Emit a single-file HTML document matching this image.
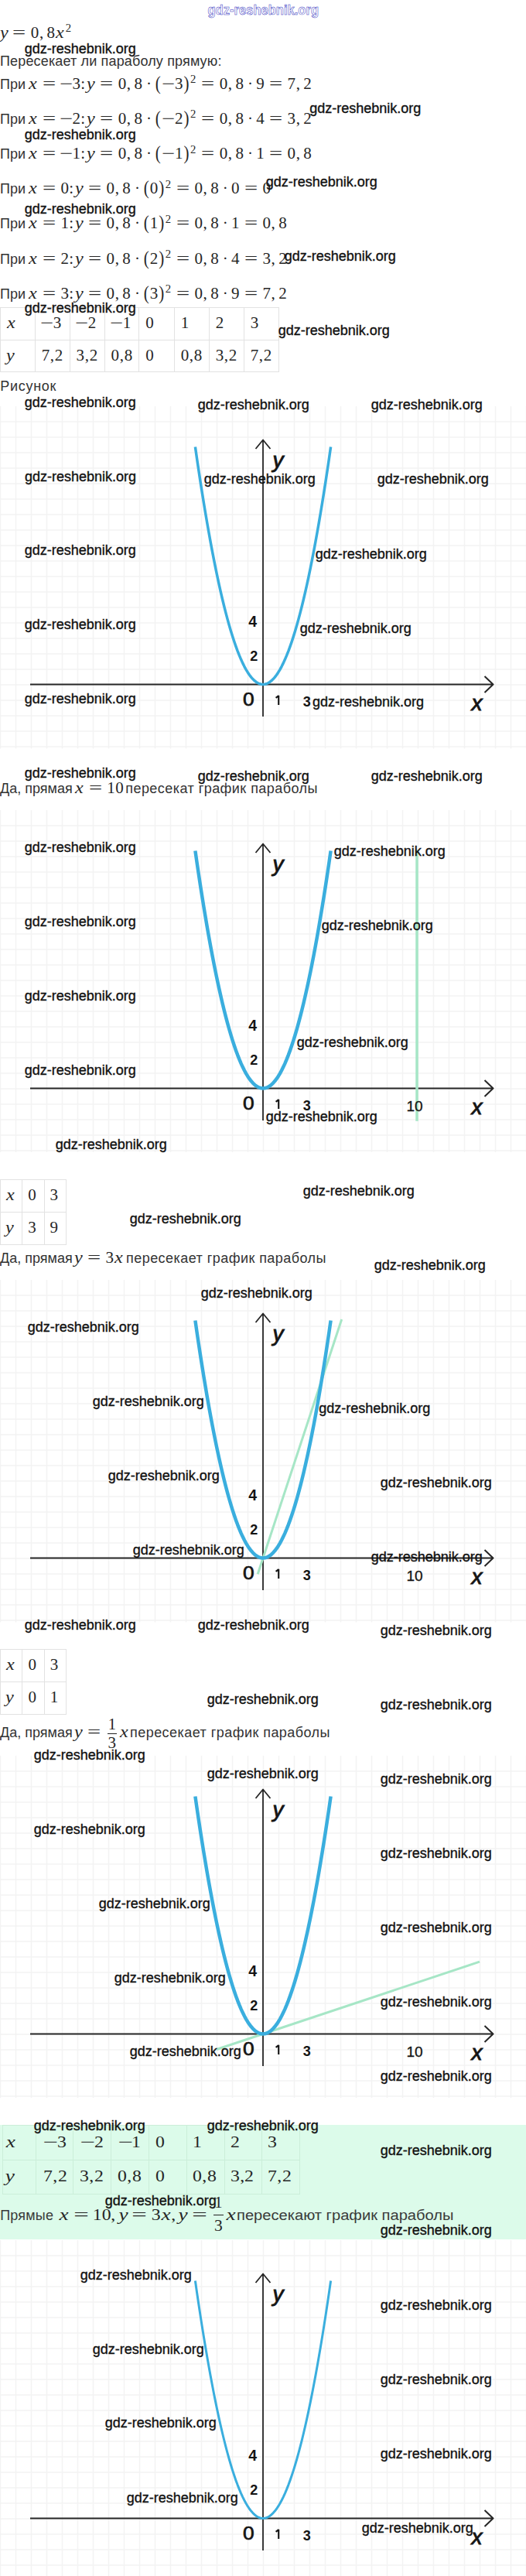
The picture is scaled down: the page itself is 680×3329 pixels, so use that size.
<!DOCTYPE html><html><head><meta charset="utf-8"><style>
*{margin:0;padding:0;box-sizing:border-box}
html,body{width:680px;height:3329px;overflow:hidden;background:#fff}
body{position:relative;font-family:"Liberation Sans",sans-serif;font-size:18px;color:#333}
.ln{position:absolute;left:0;white-space:nowrap;line-height:26px;height:26px;letter-spacing:0}
.t4{letter-spacing:0.45px}
.ln span,.ln i{line-height:0}
.m{font-family:"Liberation Serif",serif;color:#262626;letter-spacing:0}
.g{display:inline-block;text-align:center}
.it{font-style:italic;transform:scaleX(1.15)}
.op{transform:scaleX(1.45)}
.pr{transform:scaleY(1.15)}
.la{text-align:left}
.gb .g{transform:scaleX(1.13)}
.gb .op{transform:scaleX(1.65)}
.gb .it{transform:scaleX(1.3)}
.s{display:inline-block}
.sup{display:inline-block;text-align:center}
.frac{display:inline-block;position:relative;height:0}
.fx{position:absolute;display:block;text-align:center;line-height:20px!important;height:20px}
.fbar{position:absolute;display:block;height:1.2px;background:#222}
.wm{position:absolute;font-family:"Liberation Sans",sans-serif;font-size:18px;color:#111;white-space:nowrap;line-height:20px;-webkit-text-stroke:0.35px #111;letter-spacing:0}
.hl{position:absolute;height:1px;background:#e2e2e2}
.vl{position:absolute;width:1px;background:#e2e2e2}
svg{position:absolute;left:0}
.gl{font-family:"Liberation Sans",sans-serif;fill:#141414}
</style></head><body><div class="ln" style="top:29.56px;left:-0.50px;font-size:18px;"><span class="m" style="margin-left:0px;margin-right:0px;font-size:21.0px"><span class="g it" style="width:10.78px">y</span><i class="s" style="width:6.11px"></i><span class="g op" style="width:17.12px">=</span><i class="s" style="width:6.11px"></i><span class="g" style="width:11.00px">0</span><span class="g" style="width:6.12px">,</span><i class="s" style="width:3.67px"></i><span class="g" style="width:11.00px">8</span><span class="g it" style="width:12.58px">x</span><span class="sup" style="width:8.80px;font-size:14.7px;vertical-align:7.9px">2</span></span></div><div class="ln" style="top:65.56px;left:0.00px;font-size:18px;"><span class="t4" style="letter-spacing:0.15px">Пересекает ли параболу прямую:</span></div><div class="ln" style="top:96.36px;left:0.00px;font-size:18px;">При <span class="m" style="margin-left:-1.8px;margin-right:0px;font-size:21.0px"><span class="g it" style="width:12.58px">x</span><i class="s" style="width:6.11px"></i><span class="g op" style="width:17.12px">=</span><i class="s" style="width:6.11px"></i><span class="g op" style="width:15.12px">−</span><span class="g" style="width:11.00px">3</span><span class="g la" style="width:8.12px">:</span><span class="g it" style="width:10.78px">y</span><i class="s" style="width:6.11px"></i><span class="g op" style="width:17.12px">=</span><i class="s" style="width:6.11px"></i><span class="g" style="width:11.00px">0</span><span class="g" style="width:6.12px">,</span><i class="s" style="width:3.67px"></i><span class="g" style="width:11.00px">8</span><i class="s" style="width:4.89px"></i><span class="g" style="width:6.12px">·</span><i class="s" style="width:4.89px"></i><span class="g pr" style="width:8.56px">(</span><span class="g op" style="width:17.12px">−</span><span class="g" style="width:11.00px">3</span><span class="g pr" style="width:8.56px">)</span><span class="sup" style="width:8.80px;font-size:14.7px;vertical-align:7.9px">2</span><i class="s" style="width:6.11px"></i><span class="g op" style="width:17.12px">=</span><i class="s" style="width:6.11px"></i><span class="g" style="width:11.00px">0</span><span class="g" style="width:6.12px">,</span><i class="s" style="width:3.67px"></i><span class="g" style="width:11.00px">8</span><i class="s" style="width:4.89px"></i><span class="g" style="width:6.12px">·</span><i class="s" style="width:4.89px"></i><span class="g" style="width:11.00px">9</span><i class="s" style="width:6.11px"></i><span class="g op" style="width:17.12px">=</span><i class="s" style="width:6.11px"></i><span class="g" style="width:11.00px">7</span><span class="g" style="width:6.12px">,</span><i class="s" style="width:3.67px"></i><span class="g" style="width:11.00px">2</span></span></div><div class="ln" style="top:141.39px;left:0.00px;font-size:18px;">При <span class="m" style="margin-left:-1.8px;margin-right:0px;font-size:21.0px"><span class="g it" style="width:12.58px">x</span><i class="s" style="width:6.11px"></i><span class="g op" style="width:17.12px">=</span><i class="s" style="width:6.11px"></i><span class="g op" style="width:15.12px">−</span><span class="g" style="width:11.00px">2</span><span class="g la" style="width:8.12px">:</span><span class="g it" style="width:10.78px">y</span><i class="s" style="width:6.11px"></i><span class="g op" style="width:17.12px">=</span><i class="s" style="width:6.11px"></i><span class="g" style="width:11.00px">0</span><span class="g" style="width:6.12px">,</span><i class="s" style="width:3.67px"></i><span class="g" style="width:11.00px">8</span><i class="s" style="width:4.89px"></i><span class="g" style="width:6.12px">·</span><i class="s" style="width:4.89px"></i><span class="g pr" style="width:8.56px">(</span><span class="g op" style="width:17.12px">−</span><span class="g" style="width:11.00px">2</span><span class="g pr" style="width:8.56px">)</span><span class="sup" style="width:8.80px;font-size:14.7px;vertical-align:7.9px">2</span><i class="s" style="width:6.11px"></i><span class="g op" style="width:17.12px">=</span><i class="s" style="width:6.11px"></i><span class="g" style="width:11.00px">0</span><span class="g" style="width:6.12px">,</span><i class="s" style="width:3.67px"></i><span class="g" style="width:11.00px">8</span><i class="s" style="width:4.89px"></i><span class="g" style="width:6.12px">·</span><i class="s" style="width:4.89px"></i><span class="g" style="width:11.00px">4</span><i class="s" style="width:6.11px"></i><span class="g op" style="width:17.12px">=</span><i class="s" style="width:6.11px"></i><span class="g" style="width:11.00px">3</span><span class="g" style="width:6.12px">,</span><i class="s" style="width:3.67px"></i><span class="g" style="width:11.00px">2</span></span></div><div class="ln" style="top:186.42px;left:0.00px;font-size:18px;">При <span class="m" style="margin-left:-1.8px;margin-right:0px;font-size:21.0px"><span class="g it" style="width:12.58px">x</span><i class="s" style="width:6.11px"></i><span class="g op" style="width:17.12px">=</span><i class="s" style="width:6.11px"></i><span class="g op" style="width:15.12px">−</span><span class="g" style="width:11.00px">1</span><span class="g la" style="width:8.12px">:</span><span class="g it" style="width:10.78px">y</span><i class="s" style="width:6.11px"></i><span class="g op" style="width:17.12px">=</span><i class="s" style="width:6.11px"></i><span class="g" style="width:11.00px">0</span><span class="g" style="width:6.12px">,</span><i class="s" style="width:3.67px"></i><span class="g" style="width:11.00px">8</span><i class="s" style="width:4.89px"></i><span class="g" style="width:6.12px">·</span><i class="s" style="width:4.89px"></i><span class="g pr" style="width:8.56px">(</span><span class="g op" style="width:17.12px">−</span><span class="g" style="width:11.00px">1</span><span class="g pr" style="width:8.56px">)</span><span class="sup" style="width:8.80px;font-size:14.7px;vertical-align:7.9px">2</span><i class="s" style="width:6.11px"></i><span class="g op" style="width:17.12px">=</span><i class="s" style="width:6.11px"></i><span class="g" style="width:11.00px">0</span><span class="g" style="width:6.12px">,</span><i class="s" style="width:3.67px"></i><span class="g" style="width:11.00px">8</span><i class="s" style="width:4.89px"></i><span class="g" style="width:6.12px">·</span><i class="s" style="width:4.89px"></i><span class="g" style="width:11.00px">1</span><i class="s" style="width:6.11px"></i><span class="g op" style="width:17.12px">=</span><i class="s" style="width:6.11px"></i><span class="g" style="width:11.00px">0</span><span class="g" style="width:6.12px">,</span><i class="s" style="width:3.67px"></i><span class="g" style="width:11.00px">8</span></span></div><div class="ln" style="top:231.45px;left:0.00px;font-size:18px;">При <span class="m" style="margin-left:-1.8px;margin-right:0px;font-size:21.0px"><span class="g it" style="width:12.58px">x</span><i class="s" style="width:6.11px"></i><span class="g op" style="width:17.12px">=</span><i class="s" style="width:6.11px"></i><span class="g" style="width:11.00px">0</span><span class="g la" style="width:8.12px">:</span><span class="g it" style="width:10.78px">y</span><i class="s" style="width:6.11px"></i><span class="g op" style="width:17.12px">=</span><i class="s" style="width:6.11px"></i><span class="g" style="width:11.00px">0</span><span class="g" style="width:6.12px">,</span><i class="s" style="width:3.67px"></i><span class="g" style="width:11.00px">8</span><i class="s" style="width:4.89px"></i><span class="g" style="width:6.12px">·</span><i class="s" style="width:4.89px"></i><span class="g pr" style="width:8.56px">(</span><span class="g" style="width:11.00px">0</span><span class="g pr" style="width:8.56px">)</span><span class="sup" style="width:8.80px;font-size:14.7px;vertical-align:7.9px">2</span><i class="s" style="width:6.11px"></i><span class="g op" style="width:17.12px">=</span><i class="s" style="width:6.11px"></i><span class="g" style="width:11.00px">0</span><span class="g" style="width:6.12px">,</span><i class="s" style="width:3.67px"></i><span class="g" style="width:11.00px">8</span><i class="s" style="width:4.89px"></i><span class="g" style="width:6.12px">·</span><i class="s" style="width:4.89px"></i><span class="g" style="width:11.00px">0</span><i class="s" style="width:6.11px"></i><span class="g op" style="width:17.12px">=</span><i class="s" style="width:6.11px"></i><span class="g" style="width:11.00px">0</span></span></div><div class="ln" style="top:276.48px;left:0.00px;font-size:18px;">При <span class="m" style="margin-left:-1.8px;margin-right:0px;font-size:21.0px"><span class="g it" style="width:12.58px">x</span><i class="s" style="width:6.11px"></i><span class="g op" style="width:17.12px">=</span><i class="s" style="width:6.11px"></i><span class="g" style="width:11.00px">1</span><span class="g la" style="width:8.12px">:</span><span class="g it" style="width:10.78px">y</span><i class="s" style="width:6.11px"></i><span class="g op" style="width:17.12px">=</span><i class="s" style="width:6.11px"></i><span class="g" style="width:11.00px">0</span><span class="g" style="width:6.12px">,</span><i class="s" style="width:3.67px"></i><span class="g" style="width:11.00px">8</span><i class="s" style="width:4.89px"></i><span class="g" style="width:6.12px">·</span><i class="s" style="width:4.89px"></i><span class="g pr" style="width:8.56px">(</span><span class="g" style="width:11.00px">1</span><span class="g pr" style="width:8.56px">)</span><span class="sup" style="width:8.80px;font-size:14.7px;vertical-align:7.9px">2</span><i class="s" style="width:6.11px"></i><span class="g op" style="width:17.12px">=</span><i class="s" style="width:6.11px"></i><span class="g" style="width:11.00px">0</span><span class="g" style="width:6.12px">,</span><i class="s" style="width:3.67px"></i><span class="g" style="width:11.00px">8</span><i class="s" style="width:4.89px"></i><span class="g" style="width:6.12px">·</span><i class="s" style="width:4.89px"></i><span class="g" style="width:11.00px">1</span><i class="s" style="width:6.11px"></i><span class="g op" style="width:17.12px">=</span><i class="s" style="width:6.11px"></i><span class="g" style="width:11.00px">0</span><span class="g" style="width:6.12px">,</span><i class="s" style="width:3.67px"></i><span class="g" style="width:11.00px">8</span></span></div><div class="ln" style="top:321.51px;left:0.00px;font-size:18px;">При <span class="m" style="margin-left:-1.8px;margin-right:0px;font-size:21.0px"><span class="g it" style="width:12.58px">x</span><i class="s" style="width:6.11px"></i><span class="g op" style="width:17.12px">=</span><i class="s" style="width:6.11px"></i><span class="g" style="width:11.00px">2</span><span class="g la" style="width:8.12px">:</span><span class="g it" style="width:10.78px">y</span><i class="s" style="width:6.11px"></i><span class="g op" style="width:17.12px">=</span><i class="s" style="width:6.11px"></i><span class="g" style="width:11.00px">0</span><span class="g" style="width:6.12px">,</span><i class="s" style="width:3.67px"></i><span class="g" style="width:11.00px">8</span><i class="s" style="width:4.89px"></i><span class="g" style="width:6.12px">·</span><i class="s" style="width:4.89px"></i><span class="g pr" style="width:8.56px">(</span><span class="g" style="width:11.00px">2</span><span class="g pr" style="width:8.56px">)</span><span class="sup" style="width:8.80px;font-size:14.7px;vertical-align:7.9px">2</span><i class="s" style="width:6.11px"></i><span class="g op" style="width:17.12px">=</span><i class="s" style="width:6.11px"></i><span class="g" style="width:11.00px">0</span><span class="g" style="width:6.12px">,</span><i class="s" style="width:3.67px"></i><span class="g" style="width:11.00px">8</span><i class="s" style="width:4.89px"></i><span class="g" style="width:6.12px">·</span><i class="s" style="width:4.89px"></i><span class="g" style="width:11.00px">4</span><i class="s" style="width:6.11px"></i><span class="g op" style="width:17.12px">=</span><i class="s" style="width:6.11px"></i><span class="g" style="width:11.00px">3</span><span class="g" style="width:6.12px">,</span><i class="s" style="width:3.67px"></i><span class="g" style="width:11.00px">2</span></span></div><div class="ln" style="top:366.54px;left:0.00px;font-size:18px;">При <span class="m" style="margin-left:-1.8px;margin-right:0px;font-size:21.0px"><span class="g it" style="width:12.58px">x</span><i class="s" style="width:6.11px"></i><span class="g op" style="width:17.12px">=</span><i class="s" style="width:6.11px"></i><span class="g" style="width:11.00px">3</span><span class="g la" style="width:8.12px">:</span><span class="g it" style="width:10.78px">y</span><i class="s" style="width:6.11px"></i><span class="g op" style="width:17.12px">=</span><i class="s" style="width:6.11px"></i><span class="g" style="width:11.00px">0</span><span class="g" style="width:6.12px">,</span><i class="s" style="width:3.67px"></i><span class="g" style="width:11.00px">8</span><i class="s" style="width:4.89px"></i><span class="g" style="width:6.12px">·</span><i class="s" style="width:4.89px"></i><span class="g pr" style="width:8.56px">(</span><span class="g" style="width:11.00px">3</span><span class="g pr" style="width:8.56px">)</span><span class="sup" style="width:8.80px;font-size:14.7px;vertical-align:7.9px">2</span><i class="s" style="width:6.11px"></i><span class="g op" style="width:17.12px">=</span><i class="s" style="width:6.11px"></i><span class="g" style="width:11.00px">0</span><span class="g" style="width:6.12px">,</span><i class="s" style="width:3.67px"></i><span class="g" style="width:11.00px">8</span><i class="s" style="width:4.89px"></i><span class="g" style="width:6.12px">·</span><i class="s" style="width:4.89px"></i><span class="g" style="width:11.00px">9</span><i class="s" style="width:6.11px"></i><span class="g op" style="width:17.12px">=</span><i class="s" style="width:6.11px"></i><span class="g" style="width:11.00px">7</span><span class="g" style="width:6.12px">,</span><i class="s" style="width:3.67px"></i><span class="g" style="width:11.00px">2</span></span></div><div class="hl" style="left:0.0px;width:360.5px;top:397.0px;background:#e2e2e2"></div><div class="hl" style="left:0.0px;width:360.5px;top:438.9px;background:#e2e2e2"></div><div class="hl" style="left:0.0px;width:360.5px;top:480.3px;background:#e2e2e2"></div><div class="vl" style="left:0.0px;top:397.0px;height:84.3px;background:#e2e2e2"></div><div class="vl" style="left:44.6px;top:397.0px;height:84.3px;background:#e2e2e2"></div><div class="vl" style="left:89.5px;top:397.0px;height:84.3px;background:#e2e2e2"></div><div class="vl" style="left:134.5px;top:397.0px;height:84.3px;background:#e2e2e2"></div><div class="vl" style="left:179.3px;top:397.0px;height:84.3px;background:#e2e2e2"></div><div class="vl" style="left:224.6px;top:397.0px;height:84.3px;background:#e2e2e2"></div><div class="vl" style="left:269.6px;top:397.0px;height:84.3px;background:#e2e2e2"></div><div class="vl" style="left:314.6px;top:397.0px;height:84.3px;background:#e2e2e2"></div><div class="vl" style="left:359.5px;top:397.0px;height:84.3px;background:#e2e2e2"></div><div class="ln" style="top:404.56px;left:9.60px;font-size:18px;"><span class="m" style="margin-left:-1.2px;margin-right:0px;font-size:21.0px"><span class="g it" style="width:12.58px">x</span></span></div><div class="ln" style="top:404.56px;left:54.20px;font-size:18px;"><span class="m" style="margin-left:-0.8px;margin-right:0px;font-size:21.0px"><span class="g op" style="width:15.12px">−</span><span class="g" style="width:11.00px">3</span></span></div><div class="ln" style="top:404.56px;left:99.10px;font-size:18px;"><span class="m" style="margin-left:-0.8px;margin-right:0px;font-size:21.0px"><span class="g op" style="width:15.12px">−</span><span class="g" style="width:11.00px">2</span></span></div><div class="ln" style="top:404.56px;left:144.10px;font-size:18px;"><span class="m" style="margin-left:-0.8px;margin-right:0px;font-size:21.0px"><span class="g op" style="width:15.12px">−</span><span class="g" style="width:11.00px">1</span></span></div><div class="ln" style="top:404.56px;left:188.90px;font-size:18px;"><span class="m" style="margin-left:-0.8px;margin-right:0px;font-size:21.0px"><span class="g" style="width:11.00px">0</span></span></div><div class="ln" style="top:404.56px;left:234.20px;font-size:18px;"><span class="m" style="margin-left:-0.8px;margin-right:0px;font-size:21.0px"><span class="g" style="width:11.00px">1</span></span></div><div class="ln" style="top:404.56px;left:279.20px;font-size:18px;"><span class="m" style="margin-left:-0.8px;margin-right:0px;font-size:21.0px"><span class="g" style="width:11.00px">2</span></span></div><div class="ln" style="top:404.56px;left:324.20px;font-size:18px;"><span class="m" style="margin-left:-0.8px;margin-right:0px;font-size:21.0px"><span class="g" style="width:11.00px">3</span></span></div><div class="ln" style="top:446.76px;left:9.60px;font-size:18px;"><span class="m" style="margin-left:-1.2px;margin-right:0px;font-size:21.0px"><span class="g it" style="width:10.78px">y</span></span></div><div class="ln" style="top:446.76px;left:54.20px;font-size:18px;"><span class="m" style="margin-left:-0.8px;margin-right:0px;font-size:21.0px"><span class="g" style="width:11.00px">7</span><span class="g" style="width:6.12px">,</span><span class="g" style="width:11.00px">2</span></span></div><div class="ln" style="top:446.76px;left:99.10px;font-size:18px;"><span class="m" style="margin-left:-0.8px;margin-right:0px;font-size:21.0px"><span class="g" style="width:11.00px">3</span><span class="g" style="width:6.12px">,</span><span class="g" style="width:11.00px">2</span></span></div><div class="ln" style="top:446.76px;left:144.10px;font-size:18px;"><span class="m" style="margin-left:-0.8px;margin-right:0px;font-size:21.0px"><span class="g" style="width:11.00px">0</span><span class="g" style="width:6.12px">,</span><span class="g" style="width:11.00px">8</span></span></div><div class="ln" style="top:446.76px;left:188.90px;font-size:18px;"><span class="m" style="margin-left:-0.8px;margin-right:0px;font-size:21.0px"><span class="g" style="width:11.00px">0</span></span></div><div class="ln" style="top:446.76px;left:234.20px;font-size:18px;"><span class="m" style="margin-left:-0.8px;margin-right:0px;font-size:21.0px"><span class="g" style="width:11.00px">0</span><span class="g" style="width:6.12px">,</span><span class="g" style="width:11.00px">8</span></span></div><div class="ln" style="top:446.76px;left:279.20px;font-size:18px;"><span class="m" style="margin-left:-0.8px;margin-right:0px;font-size:21.0px"><span class="g" style="width:11.00px">3</span><span class="g" style="width:6.12px">,</span><span class="g" style="width:11.00px">2</span></span></div><div class="ln" style="top:446.76px;left:324.20px;font-size:18px;"><span class="m" style="margin-left:-0.8px;margin-right:0px;font-size:21.0px"><span class="g" style="width:11.00px">7</span><span class="g" style="width:6.12px">,</span><span class="g" style="width:11.00px">2</span></span></div><div class="ln" style="top:485.76px;left:0.30px;font-size:18px;"><span style="letter-spacing:0.7px">Рисунок</span></div><div class="ln" style="top:1006.36px;left:0.00px;font-size:18px;">Да, прямая <span class="m" style="margin-left:-2.5px;margin-right:-3.25px;font-size:21.0px"><span class="g it" style="width:12.58px">x</span><i class="s" style="width:6.11px"></i><span class="g op" style="width:17.12px">=</span><i class="s" style="width:6.11px"></i><span class="g" style="width:11.00px">1</span><span class="g" style="width:11.00px">0</span></span><span class="t4"> пересекат график параболы</span></div><div class="hl" style="left:0.0px;width:85.7px;top:1523.8px;background:#e2e2e2"></div><div class="hl" style="left:0.0px;width:85.7px;top:1565.9px;background:#e2e2e2"></div><div class="hl" style="left:0.0px;width:85.7px;top:1608.1px;background:#e2e2e2"></div><div class="vl" style="left:0.0px;top:1523.8px;height:85.3px;background:#e2e2e2"></div><div class="vl" style="left:28.2px;top:1523.8px;height:85.3px;background:#e2e2e2"></div><div class="vl" style="left:56.5px;top:1523.8px;height:85.3px;background:#e2e2e2"></div><div class="vl" style="left:84.7px;top:1523.8px;height:85.3px;background:#e2e2e2"></div><div class="ln" style="top:1531.76px;left:8.60px;font-size:18px;"><span class="m" style="margin-left:-1.2px;margin-right:0px;font-size:21.0px"><span class="g it" style="width:12.58px">x</span></span></div><div class="ln" style="top:1531.76px;left:36.80px;font-size:18px;"><span class="m" style="margin-left:-0.8px;margin-right:0px;font-size:21.0px"><span class="g" style="width:11.00px">0</span></span></div><div class="ln" style="top:1531.76px;left:65.10px;font-size:18px;"><span class="m" style="margin-left:-0.8px;margin-right:0px;font-size:21.0px"><span class="g" style="width:11.00px">3</span></span></div><div class="ln" style="top:1573.56px;left:8.60px;font-size:18px;"><span class="m" style="margin-left:-1.2px;margin-right:0px;font-size:21.0px"><span class="g it" style="width:10.78px">y</span></span></div><div class="ln" style="top:1573.56px;left:36.80px;font-size:18px;"><span class="m" style="margin-left:-0.8px;margin-right:0px;font-size:21.0px"><span class="g" style="width:11.00px">3</span></span></div><div class="ln" style="top:1573.56px;left:65.10px;font-size:18px;"><span class="m" style="margin-left:-0.8px;margin-right:0px;font-size:21.0px"><span class="g" style="width:11.00px">9</span></span></div><div class="ln" style="top:1613.36px;left:0.00px;font-size:18px;">Да, прямая <span class="m" style="margin-left:-2.5px;margin-right:-2.25px;font-size:21.0px"><span class="g it" style="width:10.78px">y</span><i class="s" style="width:6.11px"></i><span class="g op" style="width:17.12px">=</span><i class="s" style="width:6.11px"></i><span class="g" style="width:11.00px">3</span><span class="g it" style="width:12.58px">x</span></span><span class="t4"> пересекает график параболы</span></div><div class="hl" style="left:0.0px;width:85.9px;top:2131.4px;background:#e2e2e2"></div><div class="hl" style="left:0.0px;width:85.9px;top:2173.2px;background:#e2e2e2"></div><div class="hl" style="left:0.0px;width:85.9px;top:2215.0px;background:#e2e2e2"></div><div class="vl" style="left:0.0px;top:2131.4px;height:84.6px;background:#e2e2e2"></div><div class="vl" style="left:28.4px;top:2131.4px;height:84.6px;background:#e2e2e2"></div><div class="vl" style="left:56.8px;top:2131.4px;height:84.6px;background:#e2e2e2"></div><div class="vl" style="left:84.9px;top:2131.4px;height:84.6px;background:#e2e2e2"></div><div class="ln" style="top:2139.36px;left:8.60px;font-size:18px;"><span class="m" style="margin-left:-1.2px;margin-right:0px;font-size:21.0px"><span class="g it" style="width:12.58px">x</span></span></div><div class="ln" style="top:2139.36px;left:37.00px;font-size:18px;"><span class="m" style="margin-left:-0.8px;margin-right:0px;font-size:21.0px"><span class="g" style="width:11.00px">0</span></span></div><div class="ln" style="top:2139.36px;left:65.40px;font-size:18px;"><span class="m" style="margin-left:-0.8px;margin-right:0px;font-size:21.0px"><span class="g" style="width:11.00px">3</span></span></div><div class="ln" style="top:2181.36px;left:8.60px;font-size:18px;"><span class="m" style="margin-left:-1.2px;margin-right:0px;font-size:21.0px"><span class="g it" style="width:10.78px">y</span></span></div><div class="ln" style="top:2181.36px;left:37.00px;font-size:18px;"><span class="m" style="margin-left:-0.8px;margin-right:0px;font-size:21.0px"><span class="g" style="width:11.00px">0</span></span></div><div class="ln" style="top:2181.36px;left:65.40px;font-size:18px;"><span class="m" style="margin-left:-0.8px;margin-right:0px;font-size:21.0px"><span class="g" style="width:11.00px">1</span></span></div><div class="ln" style="top:2226.36px;left:0.00px;font-size:18px;">Да, прямая <span class="m" style="margin-left:-2.5px;margin-right:-3.5px;font-size:21.0px"><span class="g it" style="width:10.78px">y</span><i class="s" style="width:6.11px"></i><span class="g op" style="width:17.12px">=</span><i class="s" style="width:6.11px"></i><span class="frac" style="width:17.27px"><span class="fx" style="left:2.64px;width:11.99px;top:-27.2px;font-size:20.5px">1</span><span class="fbar" style="left:2.64px;width:11.99px;top:-5.2px"></span><span class="fx" style="left:2.64px;width:11.99px;top:-2.9px;font-size:21px">3</span></span><span class="g it" style="width:12.58px">x</span></span><span class="t4"> пересекает график параболы</span></div><svg style="top:525.0px" width="680" height="442.5" viewBox="0 0 680 442.5"><path d="M0.5 0V442.5M20.5 0V442.5M40.5 0V442.5M60.5 0V442.5M80.5 0V442.5M100.5 0V442.5M120.5 0V442.5M140.5 0V442.5M160.5 0V442.5M180.5 0V442.5M200.5 0V442.5M220.5 0V442.5M240.5 0V442.5M260.5 0V442.5M280.5 0V442.5M300.5 0V442.5M320.5 0V442.5M340.5 0V442.5M360.5 0V442.5M380.5 0V442.5M400.5 0V442.5M420.5 0V442.5M440.5 0V442.5M460.5 0V442.5M480.5 0V442.5M500.5 0V442.5M520.5 0V442.5M540.5 0V442.5M560.5 0V442.5M580.5 0V442.5M600.5 0V442.5M620.5 0V442.5M640.5 0V442.5M660.5 0V442.5M680.5 0V442.5M0 20.0H680M0 40.0H680M0 60.0H680M0 80.0H680M0 100.0H680M0 120.0H680M0 140.0H680M0 160.0H680M0 180.0H680M0 200.0H680M0 220.0H680M0 240.0H680M0 260.0H680M0 280.0H680M0 300.0H680M0 320.0H680M0 340.0H680M0 360.0H680M0 380.0H680M0 400.0H680M0 420.0H680M0 440.0H680" stroke="#f3f3f3" stroke-width="1.5" fill="none"/><path d="M39 359.5H637.5M626.5 349.0L637.5 359.5L626.5 370.0" stroke="#262626" stroke-width="2" fill="none" stroke-linejoin="round"/><path d="M340 401.0V43.5M330.5 55.0L340 43.5L349.5 55.0" stroke="#262626" stroke-width="1.8" fill="none" stroke-linejoin="round"/><path d="M252.40 52.55 L254.59 67.71 L256.78 82.48 L258.97 96.87 L261.16 110.87 L263.35 124.49 L265.54 137.73 L267.73 150.58 L269.92 163.05 L272.11 175.14 L274.30 186.84 L276.49 198.16 L278.68 209.09 L280.87 219.65 L283.06 229.81 L285.25 239.60 L287.44 249.00 L289.63 258.01 L291.82 266.65 L294.01 274.90 L296.20 282.76 L298.39 290.24 L300.58 297.34 L302.77 304.06 L304.96 310.39 L307.15 316.34 L309.34 321.90 L311.53 327.08 L313.72 331.87 L315.91 336.29 L318.10 340.32 L320.29 343.96 L322.48 347.22 L324.67 350.10 L326.86 352.59 L329.05 354.70 L331.24 356.43 L333.43 357.77 L335.62 358.73 L337.81 359.31 L340.00 359.50 L342.19 359.31 L344.38 358.73 L346.57 357.77 L348.76 356.43 L350.95 354.70 L353.14 352.59 L355.33 350.10 L357.52 347.22 L359.71 343.96 L361.90 340.32 L364.09 336.29 L366.28 331.87 L368.47 327.08 L370.66 321.90 L372.85 316.34 L375.04 310.39 L377.23 304.06 L379.42 297.34 L381.61 290.24 L383.80 282.76 L385.99 274.90 L388.18 266.65 L390.37 258.01 L392.56 249.00 L394.75 239.60 L396.94 229.81 L399.13 219.65 L401.32 209.09 L403.51 198.16 L405.70 186.84 L407.89 175.14 L410.08 163.05 L412.27 150.58 L414.46 137.73 L416.65 124.49 L418.84 110.87 L421.03 96.87 L423.22 82.48 L425.41 67.71 L427.60 52.55" stroke="#3aaede" stroke-width="3.5" fill="none" stroke-linejoin="round"/><text class="gl" x="352.5" y="79.0" font-size="28" font-style="italic" stroke="#141414" stroke-width="0.9">y</text><text class="gl" x="609.5" y="392.5" font-size="28" font-style="italic" stroke="#141414" stroke-width="0.9">x</text><text class="gl" x="326.7" y="285.2" font-size="19.5" text-anchor="middle" font-weight="bold">4</text><text class="gl" x="328.2" y="328.9" font-size="18" text-anchor="middle" font-weight="bold">2</text><text class="gl" transform="translate(321.4 387.4) scale(1.12 1)" font-size="23.5" text-anchor="middle" stroke="#141414" stroke-width="0.7">0</text><path d="M360.2 373.7V385.9M360.2 374.1L356.6 376.9" stroke="#141414" stroke-width="2.1" fill="none"/><text class="gl" x="396.7" y="388.1" font-size="18" text-anchor="middle" font-weight="bold">3</text></svg><svg style="top:1046.7px" width="680" height="442.5" viewBox="0 0 680 442.5"><path d="M0.5 0V442.5M20.5 0V442.5M40.5 0V442.5M60.5 0V442.5M80.5 0V442.5M100.5 0V442.5M120.5 0V442.5M140.5 0V442.5M160.5 0V442.5M180.5 0V442.5M200.5 0V442.5M220.5 0V442.5M240.5 0V442.5M260.5 0V442.5M280.5 0V442.5M300.5 0V442.5M320.5 0V442.5M340.5 0V442.5M360.5 0V442.5M380.5 0V442.5M400.5 0V442.5M420.5 0V442.5M440.5 0V442.5M460.5 0V442.5M480.5 0V442.5M500.5 0V442.5M520.5 0V442.5M540.5 0V442.5M560.5 0V442.5M580.5 0V442.5M600.5 0V442.5M620.5 0V442.5M640.5 0V442.5M660.5 0V442.5M680.5 0V442.5M0 20.0H680M0 40.0H680M0 60.0H680M0 80.0H680M0 100.0H680M0 120.0H680M0 140.0H680M0 160.0H680M0 180.0H680M0 200.0H680M0 220.0H680M0 240.0H680M0 260.0H680M0 280.0H680M0 300.0H680M0 320.0H680M0 340.0H680M0 360.0H680M0 380.0H680M0 400.0H680M0 420.0H680M0 440.0H680" stroke="#f3f3f3" stroke-width="1.5" fill="none"/><path d="M39 359.5H637.5M626.5 349.0L637.5 359.5L626.5 370.0" stroke="#262626" stroke-width="2" fill="none" stroke-linejoin="round"/><path d="M340 401.0V43.5M330.5 55.0L340 43.5L349.5 55.0" stroke="#262626" stroke-width="1.8" fill="none" stroke-linejoin="round"/><path d="M539 51.3V401.8" stroke="#a6e6c6" stroke-width="3.5"/><path d="M252.40 52.55 L254.59 67.71 L256.78 82.48 L258.97 96.87 L261.16 110.87 L263.35 124.49 L265.54 137.73 L267.73 150.58 L269.92 163.05 L272.11 175.14 L274.30 186.84 L276.49 198.16 L278.68 209.09 L280.87 219.65 L283.06 229.81 L285.25 239.60 L287.44 249.00 L289.63 258.01 L291.82 266.65 L294.01 274.90 L296.20 282.76 L298.39 290.24 L300.58 297.34 L302.77 304.06 L304.96 310.39 L307.15 316.34 L309.34 321.90 L311.53 327.08 L313.72 331.87 L315.91 336.29 L318.10 340.32 L320.29 343.96 L322.48 347.22 L324.67 350.10 L326.86 352.59 L329.05 354.70 L331.24 356.43 L333.43 357.77 L335.62 358.73 L337.81 359.31 L340.00 359.50 L342.19 359.31 L344.38 358.73 L346.57 357.77 L348.76 356.43 L350.95 354.70 L353.14 352.59 L355.33 350.10 L357.52 347.22 L359.71 343.96 L361.90 340.32 L364.09 336.29 L366.28 331.87 L368.47 327.08 L370.66 321.90 L372.85 316.34 L375.04 310.39 L377.23 304.06 L379.42 297.34 L381.61 290.24 L383.80 282.76 L385.99 274.90 L388.18 266.65 L390.37 258.01 L392.56 249.00 L394.75 239.60 L396.94 229.81 L399.13 219.65 L401.32 209.09 L403.51 198.16 L405.70 186.84 L407.89 175.14 L410.08 163.05 L412.27 150.58 L414.46 137.73 L416.65 124.49 L418.84 110.87 L421.03 96.87 L423.22 82.48 L425.41 67.71 L427.60 52.55" stroke="#3aaede" stroke-width="4.5" fill="none" stroke-linejoin="round"/><text class="gl" x="352.5" y="79.0" font-size="28" font-style="italic" stroke="#141414" stroke-width="0.9">y</text><text class="gl" x="609.5" y="392.5" font-size="28" font-style="italic" stroke="#141414" stroke-width="0.9">x</text><text class="gl" x="326.7" y="285.2" font-size="19.5" text-anchor="middle" font-weight="bold">4</text><text class="gl" x="328.2" y="328.9" font-size="18" text-anchor="middle" font-weight="bold">2</text><text class="gl" transform="translate(321.4 387.4) scale(1.12 1)" font-size="23.5" text-anchor="middle" stroke="#141414" stroke-width="0.7">0</text><path d="M360.2 373.7V385.9M360.2 374.1L356.6 376.9" stroke="#141414" stroke-width="2.1" fill="none"/><text class="gl" x="396.7" y="388.1" font-size="18" text-anchor="middle" font-weight="bold">3</text><text class="gl" x="536" y="388.8" font-size="19" text-anchor="middle" stroke="#111" stroke-width="0.3">10</text></svg><svg style="top:1654.0px" width="680" height="442.5" viewBox="0 0 680 442.5"><path d="M0.5 0V442.5M20.5 0V442.5M40.5 0V442.5M60.5 0V442.5M80.5 0V442.5M100.5 0V442.5M120.5 0V442.5M140.5 0V442.5M160.5 0V442.5M180.5 0V442.5M200.5 0V442.5M220.5 0V442.5M240.5 0V442.5M260.5 0V442.5M280.5 0V442.5M300.5 0V442.5M320.5 0V442.5M340.5 0V442.5M360.5 0V442.5M380.5 0V442.5M400.5 0V442.5M420.5 0V442.5M440.5 0V442.5M460.5 0V442.5M480.5 0V442.5M500.5 0V442.5M520.5 0V442.5M540.5 0V442.5M560.5 0V442.5M580.5 0V442.5M600.5 0V442.5M620.5 0V442.5M640.5 0V442.5M660.5 0V442.5M680.5 0V442.5M0 20.0H680M0 40.0H680M0 60.0H680M0 80.0H680M0 100.0H680M0 120.0H680M0 140.0H680M0 160.0H680M0 180.0H680M0 200.0H680M0 220.0H680M0 240.0H680M0 260.0H680M0 280.0H680M0 300.0H680M0 320.0H680M0 340.0H680M0 360.0H680M0 380.0H680M0 400.0H680M0 420.0H680M0 440.0H680" stroke="#f3f3f3" stroke-width="1.5" fill="none"/><path d="M39 359.5H637.5M626.5 349.0L637.5 359.5L626.5 370.0" stroke="#262626" stroke-width="2" fill="none" stroke-linejoin="round"/><path d="M340 401.0V43.5M330.5 55.0L340 43.5L349.5 55.0" stroke="#262626" stroke-width="1.8" fill="none" stroke-linejoin="round"/><path d="M333.2 380.3L441.7 51.0" stroke="#a6e6c6" stroke-width="3"/><path d="M252.40 52.55 L254.59 67.71 L256.78 82.48 L258.97 96.87 L261.16 110.87 L263.35 124.49 L265.54 137.73 L267.73 150.58 L269.92 163.05 L272.11 175.14 L274.30 186.84 L276.49 198.16 L278.68 209.09 L280.87 219.65 L283.06 229.81 L285.25 239.60 L287.44 249.00 L289.63 258.01 L291.82 266.65 L294.01 274.90 L296.20 282.76 L298.39 290.24 L300.58 297.34 L302.77 304.06 L304.96 310.39 L307.15 316.34 L309.34 321.90 L311.53 327.08 L313.72 331.87 L315.91 336.29 L318.10 340.32 L320.29 343.96 L322.48 347.22 L324.67 350.10 L326.86 352.59 L329.05 354.70 L331.24 356.43 L333.43 357.77 L335.62 358.73 L337.81 359.31 L340.00 359.50 L342.19 359.31 L344.38 358.73 L346.57 357.77 L348.76 356.43 L350.95 354.70 L353.14 352.59 L355.33 350.10 L357.52 347.22 L359.71 343.96 L361.90 340.32 L364.09 336.29 L366.28 331.87 L368.47 327.08 L370.66 321.90 L372.85 316.34 L375.04 310.39 L377.23 304.06 L379.42 297.34 L381.61 290.24 L383.80 282.76 L385.99 274.90 L388.18 266.65 L390.37 258.01 L392.56 249.00 L394.75 239.60 L396.94 229.81 L399.13 219.65 L401.32 209.09 L403.51 198.16 L405.70 186.84 L407.89 175.14 L410.08 163.05 L412.27 150.58 L414.46 137.73 L416.65 124.49 L418.84 110.87 L421.03 96.87 L423.22 82.48 L425.41 67.71 L427.60 52.55" stroke="#3aaede" stroke-width="4.5" fill="none" stroke-linejoin="round"/><text class="gl" x="352.5" y="79.0" font-size="28" font-style="italic" stroke="#141414" stroke-width="0.9">y</text><text class="gl" x="609.5" y="392.5" font-size="28" font-style="italic" stroke="#141414" stroke-width="0.9">x</text><text class="gl" x="326.7" y="285.2" font-size="19.5" text-anchor="middle" font-weight="bold">4</text><text class="gl" x="328.2" y="328.9" font-size="18" text-anchor="middle" font-weight="bold">2</text><text class="gl" transform="translate(321.4 387.4) scale(1.12 1)" font-size="23.5" text-anchor="middle" stroke="#141414" stroke-width="0.7">0</text><path d="M360.2 373.7V385.9M360.2 374.1L356.6 376.9" stroke="#141414" stroke-width="2.1" fill="none"/><text class="gl" x="396.7" y="388.1" font-size="18" text-anchor="middle" font-weight="bold">3</text><text class="gl" x="536" y="388.8" font-size="19" text-anchor="middle" stroke="#111" stroke-width="0.3">10</text></svg><svg style="top:2268.5px" width="680" height="442.5" viewBox="0 0 680 442.5"><path d="M0.5 0V442.5M20.5 0V442.5M40.5 0V442.5M60.5 0V442.5M80.5 0V442.5M100.5 0V442.5M120.5 0V442.5M140.5 0V442.5M160.5 0V442.5M180.5 0V442.5M200.5 0V442.5M220.5 0V442.5M240.5 0V442.5M260.5 0V442.5M280.5 0V442.5M300.5 0V442.5M320.5 0V442.5M340.5 0V442.5M360.5 0V442.5M380.5 0V442.5M400.5 0V442.5M420.5 0V442.5M440.5 0V442.5M460.5 0V442.5M480.5 0V442.5M500.5 0V442.5M520.5 0V442.5M540.5 0V442.5M560.5 0V442.5M580.5 0V442.5M600.5 0V442.5M620.5 0V442.5M640.5 0V442.5M660.5 0V442.5M680.5 0V442.5M0 20.0H680M0 40.0H680M0 60.0H680M0 80.0H680M0 100.0H680M0 120.0H680M0 140.0H680M0 160.0H680M0 180.0H680M0 200.0H680M0 220.0H680M0 240.0H680M0 260.0H680M0 280.0H680M0 300.0H680M0 320.0H680M0 340.0H680M0 360.0H680M0 380.0H680M0 400.0H680M0 420.0H680M0 440.0H680" stroke="#f3f3f3" stroke-width="1.5" fill="none"/><path d="M39 359.5H637.5M626.5 349.0L637.5 359.5L626.5 370.0" stroke="#262626" stroke-width="2" fill="none" stroke-linejoin="round"/><path d="M340 401.0V43.5M330.5 55.0L340 43.5L349.5 55.0" stroke="#262626" stroke-width="1.8" fill="none" stroke-linejoin="round"/><path d="M280 379.5L620 266.2" stroke="#a6e6c6" stroke-width="3"/><path d="M252.40 52.55 L254.59 67.71 L256.78 82.48 L258.97 96.87 L261.16 110.87 L263.35 124.49 L265.54 137.73 L267.73 150.58 L269.92 163.05 L272.11 175.14 L274.30 186.84 L276.49 198.16 L278.68 209.09 L280.87 219.65 L283.06 229.81 L285.25 239.60 L287.44 249.00 L289.63 258.01 L291.82 266.65 L294.01 274.90 L296.20 282.76 L298.39 290.24 L300.58 297.34 L302.77 304.06 L304.96 310.39 L307.15 316.34 L309.34 321.90 L311.53 327.08 L313.72 331.87 L315.91 336.29 L318.10 340.32 L320.29 343.96 L322.48 347.22 L324.67 350.10 L326.86 352.59 L329.05 354.70 L331.24 356.43 L333.43 357.77 L335.62 358.73 L337.81 359.31 L340.00 359.50 L342.19 359.31 L344.38 358.73 L346.57 357.77 L348.76 356.43 L350.95 354.70 L353.14 352.59 L355.33 350.10 L357.52 347.22 L359.71 343.96 L361.90 340.32 L364.09 336.29 L366.28 331.87 L368.47 327.08 L370.66 321.90 L372.85 316.34 L375.04 310.39 L377.23 304.06 L379.42 297.34 L381.61 290.24 L383.80 282.76 L385.99 274.90 L388.18 266.65 L390.37 258.01 L392.56 249.00 L394.75 239.60 L396.94 229.81 L399.13 219.65 L401.32 209.09 L403.51 198.16 L405.70 186.84 L407.89 175.14 L410.08 163.05 L412.27 150.58 L414.46 137.73 L416.65 124.49 L418.84 110.87 L421.03 96.87 L423.22 82.48 L425.41 67.71 L427.60 52.55" stroke="#3aaede" stroke-width="4.5" fill="none" stroke-linejoin="round"/><text class="gl" x="352.5" y="79.0" font-size="28" font-style="italic" stroke="#141414" stroke-width="0.9">y</text><text class="gl" x="609.5" y="392.5" font-size="28" font-style="italic" stroke="#141414" stroke-width="0.9">x</text><text class="gl" x="326.7" y="285.2" font-size="19.5" text-anchor="middle" font-weight="bold">4</text><text class="gl" x="328.2" y="328.9" font-size="18" text-anchor="middle" font-weight="bold">2</text><text class="gl" transform="translate(321.4 387.4) scale(1.12 1)" font-size="23.5" text-anchor="middle" stroke="#141414" stroke-width="0.7">0</text><path d="M360.2 373.7V385.9M360.2 374.1L356.6 376.9" stroke="#141414" stroke-width="2.1" fill="none"/><text class="gl" x="396.7" y="388.1" font-size="18" text-anchor="middle" font-weight="bold">3</text><text class="gl" x="536" y="388.8" font-size="19" text-anchor="middle" stroke="#111" stroke-width="0.3">10</text></svg><div style="position:absolute;left:0;top:2746.3px;width:680px;height:148px;background:#dcfbea"></div><div class="hl" style="left:3.4px;width:384.8px;top:2746.3px;background:#cbeed9"></div><div class="hl" style="left:3.4px;width:384.8px;top:2791.3px;background:#cbeed9"></div><div class="hl" style="left:3.4px;width:384.8px;top:2834.7px;background:#cbeed9"></div><div class="vl" style="left:3.4px;top:2746.3px;height:89.4px;background:#cbeed9"></div><div class="vl" style="left:45.6px;top:2746.3px;height:89.4px;background:#cbeed9"></div><div class="vl" style="left:94.4px;top:2746.3px;height:89.4px;background:#cbeed9"></div><div class="vl" style="left:143.2px;top:2746.3px;height:89.4px;background:#cbeed9"></div><div class="vl" style="left:192.0px;top:2746.3px;height:89.4px;background:#cbeed9"></div><div class="vl" style="left:240.8px;top:2746.3px;height:89.4px;background:#cbeed9"></div><div class="vl" style="left:289.6px;top:2746.3px;height:89.4px;background:#cbeed9"></div><div class="vl" style="left:338.4px;top:2746.3px;height:89.4px;background:#cbeed9"></div><div class="vl" style="left:387.2px;top:2746.3px;height:89.4px;background:#cbeed9"></div><div class="ln" style="top:2756.16px;left:8.50px;font-size:18px;"><span class="gb"><span class="m" style="margin-left:-1.2px;margin-right:0px;font-size:21.0px"><span class="g it" style="width:13.73px">x</span></span></span></div><div class="ln" style="top:2756.16px;left:58.00px;font-size:18px;"><span class="gb"><span class="m" style="margin-left:-0.8px;margin-right:0px;font-size:21.0px"><span class="g op" style="width:16.67px">−</span><span class="g" style="width:12.00px">3</span></span></span></div><div class="ln" style="top:2756.16px;left:105.70px;font-size:18px;"><span class="gb"><span class="m" style="margin-left:-0.8px;margin-right:0px;font-size:21.0px"><span class="g op" style="width:16.67px">−</span><span class="g" style="width:12.00px">2</span></span></span></div><div class="ln" style="top:2756.16px;left:154.40px;font-size:18px;"><span class="gb"><span class="m" style="margin-left:-0.8px;margin-right:0px;font-size:21.0px"><span class="g op" style="width:16.67px">−</span><span class="g" style="width:12.00px">1</span></span></span></div><div class="ln" style="top:2756.16px;left:201.50px;font-size:18px;"><span class="gb"><span class="m" style="margin-left:-0.8px;margin-right:0px;font-size:21.0px"><span class="g" style="width:12.00px">0</span></span></span></div><div class="ln" style="top:2756.16px;left:250.00px;font-size:18px;"><span class="gb"><span class="m" style="margin-left:-0.8px;margin-right:0px;font-size:21.0px"><span class="g" style="width:12.00px">1</span></span></span></div><div class="ln" style="top:2756.16px;left:298.50px;font-size:18px;"><span class="gb"><span class="m" style="margin-left:-0.8px;margin-right:0px;font-size:21.0px"><span class="g" style="width:12.00px">2</span></span></span></div><div class="ln" style="top:2756.16px;left:347.00px;font-size:18px;"><span class="gb"><span class="m" style="margin-left:-0.8px;margin-right:0px;font-size:21.0px"><span class="g" style="width:12.00px">3</span></span></span></div><div class="ln" style="top:2800.36px;left:8.50px;font-size:18px;"><span class="gb"><span class="m" style="margin-left:-1.2px;margin-right:0px;font-size:21.0px"><span class="g it" style="width:11.76px">y</span></span></span></div><div class="ln" style="top:2800.36px;left:57.00px;font-size:18px;"><span class="gb"><span class="m" style="margin-left:-0.8px;margin-right:0px;font-size:21.0px"><span class="g" style="width:12.00px">7</span><span class="g" style="width:6.67px">,</span><span class="g" style="width:12.00px">2</span></span></span></div><div class="ln" style="top:2800.36px;left:104.20px;font-size:18px;"><span class="gb"><span class="m" style="margin-left:-0.8px;margin-right:0px;font-size:21.0px"><span class="g" style="width:12.00px">3</span><span class="g" style="width:6.67px">,</span><span class="g" style="width:12.00px">2</span></span></span></div><div class="ln" style="top:2800.36px;left:152.90px;font-size:18px;"><span class="gb"><span class="m" style="margin-left:-0.8px;margin-right:0px;font-size:21.0px"><span class="g" style="width:12.00px">0</span><span class="g" style="width:6.67px">,</span><span class="g" style="width:12.00px">8</span></span></span></div><div class="ln" style="top:2800.36px;left:201.50px;font-size:18px;"><span class="gb"><span class="m" style="margin-left:-0.8px;margin-right:0px;font-size:21.0px"><span class="g" style="width:12.00px">0</span></span></span></div><div class="ln" style="top:2800.36px;left:250.00px;font-size:18px;"><span class="gb"><span class="m" style="margin-left:-0.8px;margin-right:0px;font-size:21.0px"><span class="g" style="width:12.00px">0</span><span class="g" style="width:6.67px">,</span><span class="g" style="width:12.00px">8</span></span></span></div><div class="ln" style="top:2800.36px;left:298.50px;font-size:18px;"><span class="gb"><span class="m" style="margin-left:-0.8px;margin-right:0px;font-size:21.0px"><span class="g" style="width:12.00px">3</span><span class="g" style="width:6.67px">,</span><span class="g" style="width:12.00px">2</span></span></span></div><div class="ln" style="top:2800.36px;left:347.00px;font-size:18px;"><span class="gb"><span class="m" style="margin-left:-0.8px;margin-right:0px;font-size:21.0px"><span class="g" style="width:12.00px">7</span><span class="g" style="width:6.67px">,</span><span class="g" style="width:12.00px">2</span></span></span></div><div class="ln" style="top:2849.96px;left:0.20px;font-size:18px;"><span style="letter-spacing:0.2px;color:#3a3a3a">Прямые</span></div><div class="ln" style="top:2849.96px;left:76.00px;font-size:18px;"><span class="gb"><span class="m" style="margin-left:0px;margin-right:0px;font-size:21.0px"><span class="g it" style="width:13.27px">x</span><i class="s" style="width:6.44px"></i><span class="g op" style="width:18.05px">=</span><i class="s" style="width:6.44px"></i><span class="g" style="width:11.60px">1</span><span class="g" style="width:11.60px">0</span><span class="g" style="width:6.45px">,</span><i class="s" style="width:3.87px"></i><span class="g it" style="width:11.37px">y</span><i class="s" style="width:6.44px"></i><span class="g op" style="width:18.05px">=</span><i class="s" style="width:6.44px"></i><span class="g" style="width:11.60px">3</span><span class="g it" style="width:13.27px">x</span><span class="g" style="width:6.45px">,</span><i class="s" style="width:3.87px"></i><span class="g it" style="width:11.37px">y</span><i class="s" style="width:6.44px"></i><span class="g op" style="width:18.05px">=</span><i class="s" style="width:6.44px"></i><span class="frac" style="width:18.21px"><span class="fx" style="left:2.78px;width:12.64px;top:-33.1px;font-size:20.5px">1</span><span class="fbar" style="left:2.78px;width:12.64px;top:-7.4px"></span><span class="fx" style="left:2.78px;width:12.64px;top:-3.0px;font-size:21.5px">3</span></span><span class="g it" style="width:13.27px">x</span></span></span></div><div class="ln" style="top:2849.96px;left:305.50px;font-size:18px;"><span style="display:inline-block;transform:scaleX(1.118);transform-origin:0 0;color:#3a3a3a;line-height:26px">пересекают график параболы</span></div><svg style="top:2894.5px" width="680" height="434.5" viewBox="0 0 680 434.5"><path d="M0.5 0V434.5M20.5 0V434.5M40.5 0V434.5M60.5 0V434.5M80.5 0V434.5M100.5 0V434.5M120.5 0V434.5M140.5 0V434.5M160.5 0V434.5M180.5 0V434.5M200.5 0V434.5M220.5 0V434.5M240.5 0V434.5M260.5 0V434.5M280.5 0V434.5M300.5 0V434.5M320.5 0V434.5M340.5 0V434.5M360.5 0V434.5M380.5 0V434.5M400.5 0V434.5M420.5 0V434.5M440.5 0V434.5M460.5 0V434.5M480.5 0V434.5M500.5 0V434.5M520.5 0V434.5M540.5 0V434.5M560.5 0V434.5M580.5 0V434.5M600.5 0V434.5M620.5 0V434.5M640.5 0V434.5M660.5 0V434.5M680.5 0V434.5M0 20.0H680M0 40.0H680M0 60.0H680M0 80.0H680M0 100.0H680M0 120.0H680M0 140.0H680M0 160.0H680M0 180.0H680M0 200.0H680M0 220.0H680M0 240.0H680M0 260.0H680M0 280.0H680M0 300.0H680M0 320.0H680M0 340.0H680M0 360.0H680M0 380.0H680M0 400.0H680M0 420.0H680" stroke="#f3f3f3" stroke-width="1.5" fill="none"/><path d="M39 359.5H637.5M626.5 349.0L637.5 359.5L626.5 370.0" stroke="#262626" stroke-width="2" fill="none" stroke-linejoin="round"/><path d="M340 401.0V43.5M330.5 55.0L340 43.5L349.5 55.0" stroke="#262626" stroke-width="1.8" fill="none" stroke-linejoin="round"/><path d="M252.40 52.55 L254.59 67.71 L256.78 82.48 L258.97 96.87 L261.16 110.87 L263.35 124.49 L265.54 137.73 L267.73 150.58 L269.92 163.05 L272.11 175.14 L274.30 186.84 L276.49 198.16 L278.68 209.09 L280.87 219.65 L283.06 229.81 L285.25 239.60 L287.44 249.00 L289.63 258.01 L291.82 266.65 L294.01 274.90 L296.20 282.76 L298.39 290.24 L300.58 297.34 L302.77 304.06 L304.96 310.39 L307.15 316.34 L309.34 321.90 L311.53 327.08 L313.72 331.87 L315.91 336.29 L318.10 340.32 L320.29 343.96 L322.48 347.22 L324.67 350.10 L326.86 352.59 L329.05 354.70 L331.24 356.43 L333.43 357.77 L335.62 358.73 L337.81 359.31 L340.00 359.50 L342.19 359.31 L344.38 358.73 L346.57 357.77 L348.76 356.43 L350.95 354.70 L353.14 352.59 L355.33 350.10 L357.52 347.22 L359.71 343.96 L361.90 340.32 L364.09 336.29 L366.28 331.87 L368.47 327.08 L370.66 321.90 L372.85 316.34 L375.04 310.39 L377.23 304.06 L379.42 297.34 L381.61 290.24 L383.80 282.76 L385.99 274.90 L388.18 266.65 L390.37 258.01 L392.56 249.00 L394.75 239.60 L396.94 229.81 L399.13 219.65 L401.32 209.09 L403.51 198.16 L405.70 186.84 L407.89 175.14 L410.08 163.05 L412.27 150.58 L414.46 137.73 L416.65 124.49 L418.84 110.87 L421.03 96.87 L423.22 82.48 L425.41 67.71 L427.60 52.55" stroke="#3aaede" stroke-width="3" fill="none" stroke-linejoin="round"/><text class="gl" x="352.5" y="79.0" font-size="28" font-style="italic" stroke="#141414" stroke-width="0.9">y</text><text class="gl" x="609.5" y="392.5" font-size="28" font-style="italic" stroke="#141414" stroke-width="0.9">x</text><text class="gl" x="326.7" y="285.2" font-size="19.5" text-anchor="middle" font-weight="bold">4</text><text class="gl" x="328.2" y="328.9" font-size="18" text-anchor="middle" font-weight="bold">2</text><text class="gl" transform="translate(321.4 387.4) scale(1.12 1)" font-size="23.5" text-anchor="middle" stroke="#141414" stroke-width="0.7">0</text><path d="M360.2 373.7V385.9M360.2 374.1L356.6 376.9" stroke="#141414" stroke-width="2.1" fill="none"/><text class="gl" x="396.7" y="388.1" font-size="18" text-anchor="middle" font-weight="bold">3</text></svg><div class="wm" style="left:31.8px;top:53.1px">gdz-reshebnik.org</div><div class="wm" style="left:400.2px;top:130.3px">gdz-reshebnik.org</div><div class="wm" style="left:31.8px;top:164.2px">gdz-reshebnik.org</div><div class="wm" style="left:343.7px;top:224.9px">gdz-reshebnik.org</div><div class="wm" style="left:31.8px;top:259.7px">gdz-reshebnik.org</div><div class="wm" style="left:367.8px;top:321.1px">gdz-reshebnik.org</div><div class="wm" style="left:31.8px;top:388.0px">gdz-reshebnik.org</div><div class="wm" style="left:359.8px;top:417.3px">gdz-reshebnik.org</div><div class="wm" style="left:31.8px;top:509.5px">gdz-reshebnik.org</div><div class="wm" style="left:255.8px;top:513.3px">gdz-reshebnik.org</div><div class="wm" style="left:479.8px;top:513.3px">gdz-reshebnik.org</div><div class="wm" style="left:32.0px;top:605.5px">gdz-reshebnik.org</div><div class="wm" style="left:263.8px;top:609.3px">gdz-reshebnik.org</div><div class="wm" style="left:487.8px;top:609.3px">gdz-reshebnik.org</div><div class="wm" style="left:31.8px;top:701.4px">gdz-reshebnik.org</div><div class="wm" style="left:407.8px;top:705.5px">gdz-reshebnik.org</div><div class="wm" style="left:31.8px;top:797.3px">gdz-reshebnik.org</div><div class="wm" style="left:387.8px;top:801.5px">gdz-reshebnik.org</div><div class="wm" style="left:31.8px;top:893.3px">gdz-reshebnik.org</div><div class="wm" style="left:404.0px;top:897.3px">gdz-reshebnik.org</div><div class="wm" style="left:31.8px;top:989.3px">gdz-reshebnik.org</div><div class="wm" style="left:255.8px;top:993.3px">gdz-reshebnik.org</div><div class="wm" style="left:479.8px;top:993.3px">gdz-reshebnik.org</div><div class="wm" style="left:31.8px;top:1085.3px">gdz-reshebnik.org</div><div class="wm" style="left:431.8px;top:1090.0px">gdz-reshebnik.org</div><div class="wm" style="left:31.8px;top:1181.3px">gdz-reshebnik.org</div><div class="wm" style="left:415.8px;top:1186.0px">gdz-reshebnik.org</div><div class="wm" style="left:31.8px;top:1277.1px">gdz-reshebnik.org</div><div class="wm" style="left:383.8px;top:1337.3px">gdz-reshebnik.org</div><div class="wm" style="left:31.8px;top:1373.1px">gdz-reshebnik.org</div><div class="wm" style="left:343.8px;top:1433.0px">gdz-reshebnik.org</div><div class="wm" style="left:71.8px;top:1468.8px">gdz-reshebnik.org</div><div class="wm" style="left:391.8px;top:1528.8px">gdz-reshebnik.org</div><div class="wm" style="left:167.8px;top:1564.8px">gdz-reshebnik.org</div><div class="wm" style="left:483.8px;top:1624.8px">gdz-reshebnik.org</div><div class="wm" style="left:259.8px;top:1661.0px">gdz-reshebnik.org</div><div class="wm" style="left:35.8px;top:1704.8px">gdz-reshebnik.org</div><div class="wm" style="left:119.8px;top:1801.0px">gdz-reshebnik.org</div><div class="wm" style="left:412.2px;top:1809.5px">gdz-reshebnik.org</div><div class="wm" style="left:139.8px;top:1897.0px">gdz-reshebnik.org</div><div class="wm" style="left:491.8px;top:1905.7px">gdz-reshebnik.org</div><div class="wm" style="left:171.8px;top:1993.3px">gdz-reshebnik.org</div><div class="wm" style="left:479.8px;top:2001.7px">gdz-reshebnik.org</div><div class="wm" style="left:31.8px;top:2089.7px">gdz-reshebnik.org</div><div class="wm" style="left:255.8px;top:2089.7px">gdz-reshebnik.org</div><div class="wm" style="left:491.8px;top:2096.8px">gdz-reshebnik.org</div><div class="wm" style="left:267.8px;top:2185.7px">gdz-reshebnik.org</div><div class="wm" style="left:491.8px;top:2192.8px">gdz-reshebnik.org</div><div class="wm" style="left:43.8px;top:2257.7px">gdz-reshebnik.org</div><div class="wm" style="left:267.8px;top:2281.5px">gdz-reshebnik.org</div><div class="wm" style="left:491.8px;top:2289.0px">gdz-reshebnik.org</div><div class="wm" style="left:43.8px;top:2353.7px">gdz-reshebnik.org</div><div class="wm" style="left:491.8px;top:2385.0px">gdz-reshebnik.org</div><div class="wm" style="left:127.8px;top:2449.5px">gdz-reshebnik.org</div><div class="wm" style="left:491.8px;top:2481.0px">gdz-reshebnik.org</div><div class="wm" style="left:147.7px;top:2545.7px">gdz-reshebnik.org</div><div class="wm" style="left:491.8px;top:2576.8px">gdz-reshebnik.org</div><div class="wm" style="left:167.8px;top:2641.0px">gdz-reshebnik.org</div><div class="wm" style="left:491.8px;top:2673.0px">gdz-reshebnik.org</div><div class="wm" style="left:43.8px;top:2736.8px">gdz-reshebnik.org</div><div class="wm" style="left:267.8px;top:2736.8px">gdz-reshebnik.org</div><div class="wm" style="left:491.8px;top:2768.8px">gdz-reshebnik.org</div><div class="wm" style="left:135.8px;top:2833.8px">gdz-reshebnik.org</div><div class="wm" style="left:491.8px;top:2872.0px">gdz-reshebnik.org</div><div class="wm" style="left:103.8px;top:2929.7px">gdz-reshebnik.org</div><div class="wm" style="left:491.8px;top:2969.0px">gdz-reshebnik.org</div><div class="wm" style="left:119.8px;top:3025.7px">gdz-reshebnik.org</div><div class="wm" style="left:491.8px;top:3065.0px">gdz-reshebnik.org</div><div class="wm" style="left:135.8px;top:3121.0px">gdz-reshebnik.org</div><div class="wm" style="left:491.8px;top:3161.0px">gdz-reshebnik.org</div><div class="wm" style="left:163.8px;top:3217.7px">gdz-reshebnik.org</div><div class="wm" style="left:467.8px;top:3257.0px">gdz-reshebnik.org</div><svg style="top:0" width="680" height="26"><text x="268.5" y="19" font-family="Liberation Sans" font-size="18" font-weight="bold" fill="#fff" stroke="#3535c0" stroke-width="0.55" textLength="143.5" lengthAdjust="spacingAndGlyphs">gdz-reshebnik.org</text></svg></body></html>
